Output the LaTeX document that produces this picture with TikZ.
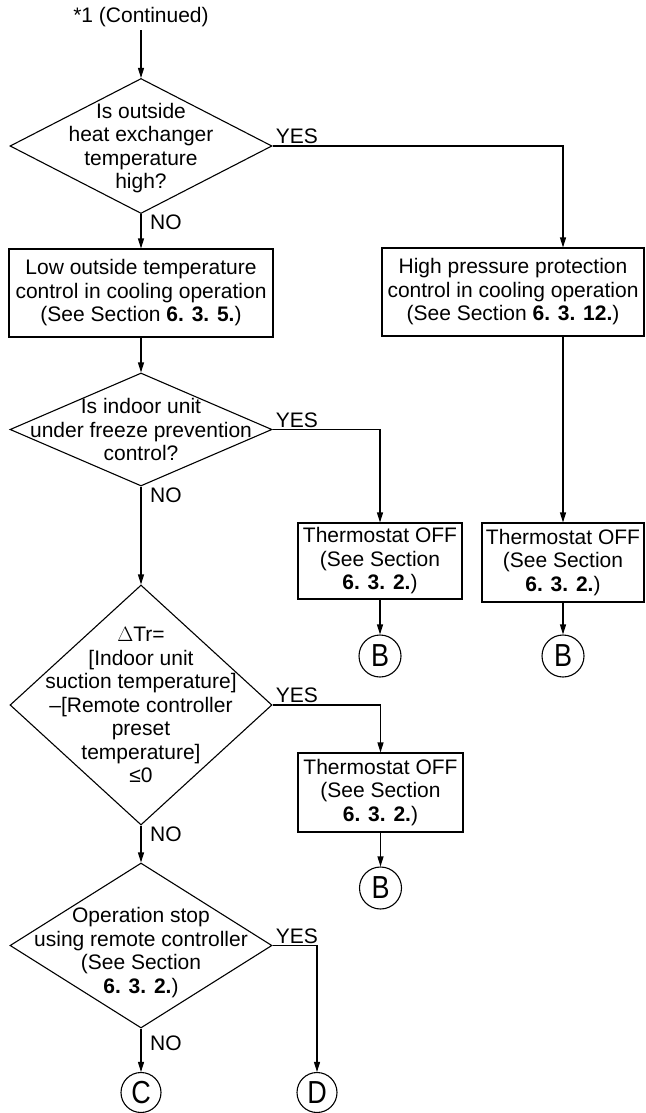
\documentclass[tikz,border=0pt]{standalone}
\usepackage{fontspec}
\setmainfont{Liberation Sans}
\usetikzlibrary{shapes.geometric,arrows.meta}
\newcommand{\cl}[1]{\scalebox{1}[1.18]{#1}}
\begin{document}
\begin{tikzpicture}[x=1pt,y=-1pt,
  every node/.style={font=\fontsize{21}{23.5}\selectfont, align=center},
  line/.style={line width=1.1pt, draw=black},
  arr/.style={line, -{Triangle[length=10pt,width=6pt]}},
  dia/.style={diamond, line, inner sep=0pt, minimum width=#1},
  dia/.default=262pt,
  boxnode/.style={rectangle, line, inner sep=0pt},
  conn/.style={circle, line, inner sep=0pt, minimum size=42pt, font=\fontsize{27}{28}\selectfont},
  lab/.style={inner sep=1pt}]
\useasboundingbox (0,0) rectangle (645,1113);

\node (top) at (141,17) {*1 (Continued)};

\node[dia, minimum height=135pt,
  label={[align=center,font=\fontsize{21}{23.5}\selectfont,yshift=-2pt]center:Is outside\\heat exchanger\\temperature\\high?}]
  (d1) at (141,146) {};

\node[boxnode, minimum width=264pt, minimum height=88pt] (b1) at (141,293)
  {Low outside temperature\\control in cooling operation\\(See Section \textbf{6. 3. 5.})};

\node[boxnode, minimum width=262pt, minimum height=88pt] (b2) at (513,292)
  {High pressure protection\\control in cooling operation\\(See Section \textbf{6. 3. 12.})};

\node[dia, minimum height=113pt,
  label={[align=center,font=\fontsize{21}{23.5}\selectfont]center:Is indoor unit\\under freeze prevention\\control?}]
  (d2) at (141,429.5) {};

\node[boxnode, minimum width=164pt, minimum height=76pt] (b3) at (380,561)
  {Thermostat OFF\\(See Section\\\textbf{6. 3. 2.})};

\node[boxnode, minimum width=162pt, minimum height=79pt] (b4) at (563,562.5)
  {Thermostat OFF\\(See Section\\\textbf{6. 3. 2.})};

\node[conn] (B1) at (380,656) {\cl{B}};
\node[conn] (B2) at (563,656) {\cl{B}};

\node[dia, minimum height=240pt,
  label={[align=center,font=\fontsize{21}{23.5}\selectfont]center:$\Delta$Tr=\\{}[Indoor unit\\suction temperature]\\–[Remote controller\\preset\\temperature]\\≤0}]
  (d3) at (141,705) {};

\node[boxnode, minimum width=165pt, minimum height=79pt] (b5) at (380.5,792.5)
  {Thermostat OFF\\(See Section\\\textbf{6. 3. 2.})};

\node[conn] (B3) at (380.5,888) {\cl{B}};

\node[dia, minimum height=165pt,
  label={[align=center,font=\fontsize{21}{23.5}\selectfont,yshift=-7pt]center:Operation stop\\using remote controller\\(See Section\\\textbf{6. 3. 2.})}]
  (d4) at (141,945.5) {};

\node[conn, minimum size=40pt] (C) at (141,1092.5) {\cl{C}};
\node[conn, minimum size=40pt] (D) at (317,1092.5) {\cl{D}};

% labels
\node[lab, anchor=south west] (y1) at ([xshift=2pt,yshift=1pt]d1.east) {YES};
\node[lab, anchor=north west] (n1) at ([xshift=8pt]d1.south) {NO};
\node[lab, anchor=south west] (y2) at ([xshift=2pt,yshift=1pt]d2.east) {YES};
\node[lab, anchor=north west] (n2) at ([xshift=8pt]d2.south) {NO};
\node[lab, anchor=south west] (y3) at ([xshift=2pt,yshift=1pt]d3.east) {YES};
\node[lab, anchor=north west] (n3) at ([xshift=8pt]d3.south) {NO};
\node[lab, anchor=south west] (y4) at ([xshift=2pt,yshift=1pt]d4.east) {YES};
\node[lab, anchor=north west] (n4) at ([xshift=8pt,yshift=-6pt]d4.south) {NO};

% connectors
\draw[arr] (top) -- (d1.north);
\draw[arr] (d1.south) -- (b1.north);
\draw[arr] (d1.east) -| (b2.north -| b4.north);
\draw[arr] (b2.south -| b4.north) -- (b4.north);
\draw[arr] (b4.south) -- (B2.north);
\draw[arr] (b1.south) -- (d2.north);
\draw[arr] (d2.east) -| (b3.north);
\draw[arr] (b3.south) -- (B1.north);
\draw[arr] (d2.south) -- (d3.north);
\draw[arr] (d3.east) -| (b5.north);
\draw[arr] (b5.south) -- (B3.north);
\draw[arr] (d3.south) -- (d4.north);
\draw[arr] (d4.east) -| (D.north);
\draw[arr] (d4.south) -- (C.north);
\end{tikzpicture}
\end{document}
